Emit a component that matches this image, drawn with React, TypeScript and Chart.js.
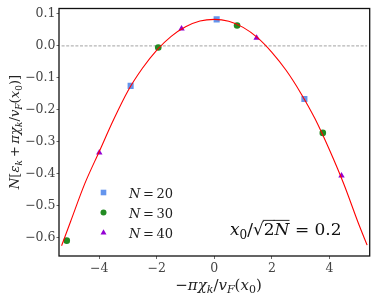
import React, { useEffect, useRef } from 'react';
import { Chart, registerables } from 'chart.js';

Chart.register(...registerables);

// ---- data ----
const xTicks = [-4, -2, 0, 2, 4];
const yTicks = [-0.6, -0.5, -0.4, -0.3, -0.2, -0.1, 0.0, 0.1];

const n20X = [-2.91, 0.08, 3.13];
const n20Y = [-0.125, 0.083, -0.166];

const n30X = [-5.13, -1.95, 0.79, 3.77];
const n30Y = [-0.609, -0.005, 0.064, -0.272];

const n40X = [-4.0, -1.14, 1.47, 4.42];
const n40Y = [-0.334, 0.054, 0.025, -0.406];

const curveX = [-5.31, -5.0, -4.5, -4.0, -3.5, -3.0, -2.5, -2.0, -1.5, -1.0, -0.5, 0, 0.5, 1.0, 1.5, 2.0, 2.5, 3.0, 3.5, 4.0, 4.5, 5.0, 5.31];
const curveY = [-0.625, -0.55, -0.43, -0.33, -0.23, -0.14, -0.07, -0.013, 0.03, 0.06, 0.078, 0.083, 0.077, 0.058, 0.026, -0.02, -0.077, -0.147, -0.228, -0.325, -0.432, -0.553, -0.623];

const refLineX = [-5.31, 5.31];
const refLineY = [0, 0];

const legendLabels = ['20', '30', '40'];

const xRange = [-5.4, 5.4];
const yRange = [-0.657, 0.117];

// ---- helpers ----
const SERIF = '"DejaVu Serif", serif';
const COLORS = { n20: '#6495ED', n30: '#228B22', n40: '#9400D3' };

type Seg = { t: string; i?: boolean; sub?: boolean; over?: boolean };

function drawRich(
  ctx: CanvasRenderingContext2D,
  segs: Seg[],
  x: number,
  y: number,
  size: number,
  align: 'left' | 'center',
  color: string
) {
  const fontFor = (s: Seg) => `${s.i ? 'italic ' : ''}${s.sub ? Math.round(size * 0.7) : size}px ${SERIF}`;
  const widths: number[] = [];
  let total = 0;
  for (const s of segs) {
    ctx.font = fontFor(s);
    const w = ctx.measureText(s.t).width;
    widths.push(w);
    total += w;
  }
  let cx = align === 'center' ? x - total / 2 : x;
  ctx.save();
  ctx.fillStyle = color;
  ctx.strokeStyle = color;
  ctx.textAlign = 'left';
  ctx.textBaseline = 'alphabetic';
  segs.forEach((s, k) => {
    ctx.font = fontFor(s);
    ctx.fillText(s.t, cx, s.sub ? y + size * 0.22 : y);
    if (s.over) {
      ctx.lineWidth = 0.9;
      ctx.beginPath();
      const oy = y - size * 0.86;
      ctx.moveTo(cx - 1, oy);
      ctx.lineTo(cx + widths[k], oy);
      ctx.stroke();
    }
    cx += widths[k];
  });
  ctx.restore();
}

function drawMarker(ctx: CanvasRenderingContext2D, style: string, x: number, y: number, r: number, color: string) {
  ctx.save();
  ctx.fillStyle = color;
  ctx.beginPath();
  if (style === 'rect') {
    ctx.rect(x - r, y - r, 2 * r, 2 * r);
  } else if (style === 'circle') {
    ctx.arc(x, y, r, 0, Math.PI * 2);
  } else {
    ctx.moveTo(x, y - r * 1.1);
    ctx.lineTo(x + r, y + r * 0.7);
    ctx.lineTo(x - r, y + r * 0.7);
    ctx.closePath();
  }
  ctx.fill();
  ctx.restore();
}

const fmt = (v: number, digits: number) => {
  const s = Math.abs(v).toFixed(digits);
  return v < -1e-9 ? '\u2212' + s : s;
};

const decorPlugin = {
  id: 'decor',
  afterDraw(chart: any) {
    const { ctx, chartArea } = chart;
    const { left, right, top, bottom } = chartArea;

    // frame
    ctx.save();
    ctx.strokeStyle = '#111';
    ctx.lineWidth = 1.3;
    ctx.strokeRect(left, top, right - left, bottom - top);
    ctx.restore();

    // legend
    const legendX = 103.5;
    const legendY = [192.5, 212.5, 232.5];
    const styles = ['rect', 'circle', 'triangle'];
    const cols = [COLORS.n20, COLORS.n30, COLORS.n40];
    legendLabels.forEach((lab, k) => {
      drawMarker(ctx, styles[k], legendX, legendY[k], styles[k] === 'rect' ? 2.8 : 3, cols[k]);
      drawRich(ctx, [{ t: 'N', i: true }, { t: '\u2009=\u2009' + lab }], 129, legendY[k] + 5, 13, 'left', '#222');
    });

    // annotation x0/sqrt(2N) = 0.2
    drawRich(
      ctx,
      [
        { t: 'x', i: true },
        { t: '0', sub: true },
        { t: '/\u221A' },
        { t: '2', over: true },
        { t: 'N', i: true, over: true },
        { t: ' = 0.2' },
      ],
      230,
      235,
      17,
      'left',
      '#111'
    );

    // x title
    drawRich(
      ctx,
      [
        { t: '\u2212' },
        { t: '\u03C0\u03C7', i: true },
        { t: 'k', i: true, sub: true },
        { t: '/' },
        { t: 'v', i: true },
        { t: 'F', i: true, sub: true },
        { t: '(' },
        { t: 'x', i: true },
        { t: '0', sub: true },
        { t: ')' },
      ],
      218.5,
      290,
      15,
      'center',
      '#222'
    );

    // y title (rotated)
    ctx.save();
    ctx.translate(19, 132);
    ctx.rotate(-Math.PI / 2);
    drawRich(
      ctx,
      [
        { t: 'N', i: true },
        { t: '[' },
        { t: '\u03B5', i: true },
        { t: 'k', i: true, sub: true },
        { t: '\u2009+\u2009' },
        { t: '\u03C0\u03C7', i: true },
        { t: 'k', i: true, sub: true },
        { t: '/' },
        { t: 'v', i: true },
        { t: 'F', i: true, sub: true },
        { t: '(' },
        { t: 'x', i: true },
        { t: '0', sub: true },
        { t: ')]' },
      ],
      0,
      0,
      13.2,
      'center',
      '#222'
    );
    ctx.restore();
  },
};

export default function App() {
  const ref = useRef<HTMLCanvasElement | null>(null);

  useEffect(() => {
    if (!ref.current) return;
    const toPts = (xs: number[], ys: number[]) => xs.map((x, i) => ({ x, y: ys[i] }));

    const chart = new Chart(ref.current, {
      type: 'scatter',
      data: {
        datasets: [
          {
            label: 'fit',
            data: toPts(curveX, curveY),
            showLine: true,
            borderColor: '#ff0000',
            borderWidth: 1.1,
            pointRadius: 0,
            cubicInterpolationMode: 'monotone',
            order: 0,
          } as any,
          {
            label: 'N = 20',
            data: toPts(n20X, n20Y),
            backgroundColor: COLORS.n20,
            borderWidth: 0,
            pointStyle: 'rect',
            pointRadius: 4.3,
            order: 1,
          },
          {
            label: 'N = 30',
            data: toPts(n30X, n30Y),
            backgroundColor: COLORS.n30,
            borderWidth: 0,
            pointStyle: 'circle',
            pointRadius: 3.3,
            order: 1,
          },
          {
            label: 'N = 40',
            data: toPts(n40X, n40Y),
            backgroundColor: COLORS.n40,
            borderWidth: 0,
            pointStyle: 'triangle',
            pointRadius: 3.7,
            order: 1,
          },
          {
            label: 'zero',
            data: toPts(refLineX, refLineY),
            showLine: true,
            borderColor: '#b5b5b5',
            borderWidth: 1.1,
            borderDash: [3, 1.6],
            pointRadius: 0,
            order: 3,
          } as any,
        ],
      },
      options: {
        responsive: false,
        animation: false,
        events: [],
        layout: { padding: { left: 0, right: 4, top: 4, bottom: 0 } },
        plugins: { legend: { display: false }, tooltip: { enabled: false } },
        scales: {
          x: {
            type: 'linear',
            min: xRange[0],
            max: xRange[1],
            afterFit: (s: any) => {
              s.height = 43;
            },
            afterBuildTicks: (s: any) => {
              s.ticks = xTicks.map((v) => ({ value: v }));
            },
            ticks: {
              callback: (v: any) => fmt(Number(v), 0),
              font: { family: SERIF, size: 12.5 },
              color: '#444',
              padding: 2,
              maxRotation: 0,
            },
            grid: { drawOnChartArea: false, drawTicks: true, tickLength: 3, color: '#444', lineWidth: 0.8 },
            border: { display: false },
          },
          y: {
            type: 'linear',
            min: yRange[0],
            max: yRange[1],
            afterFit: (s: any) => {
              s.width = 59;
            },
            afterBuildTicks: (s: any) => {
              s.ticks = yTicks.map((v) => ({ value: v }));
            },
            ticks: {
              callback: (v: any) => fmt(Number(v), 1),
              font: { family: SERIF, size: 12.5 },
              color: '#444',
              padding: 1,
            },
            grid: { drawOnChartArea: false, drawTicks: true, tickLength: 2.5, color: '#444', lineWidth: 0.8 },
            border: { display: false },
          },
        },
      },
      plugins: [decorPlugin],
    } as any);

    return () => chart.destroy();
  }, []);

  return (
    <div style={{ position: 'absolute', left: 0, top: 0, width: 374, height: 299, background: '#fff' }}>
      <canvas ref={ref} width={374} height={299} style={{ width: 374, height: 299 }} />
    </div>
  );
}
